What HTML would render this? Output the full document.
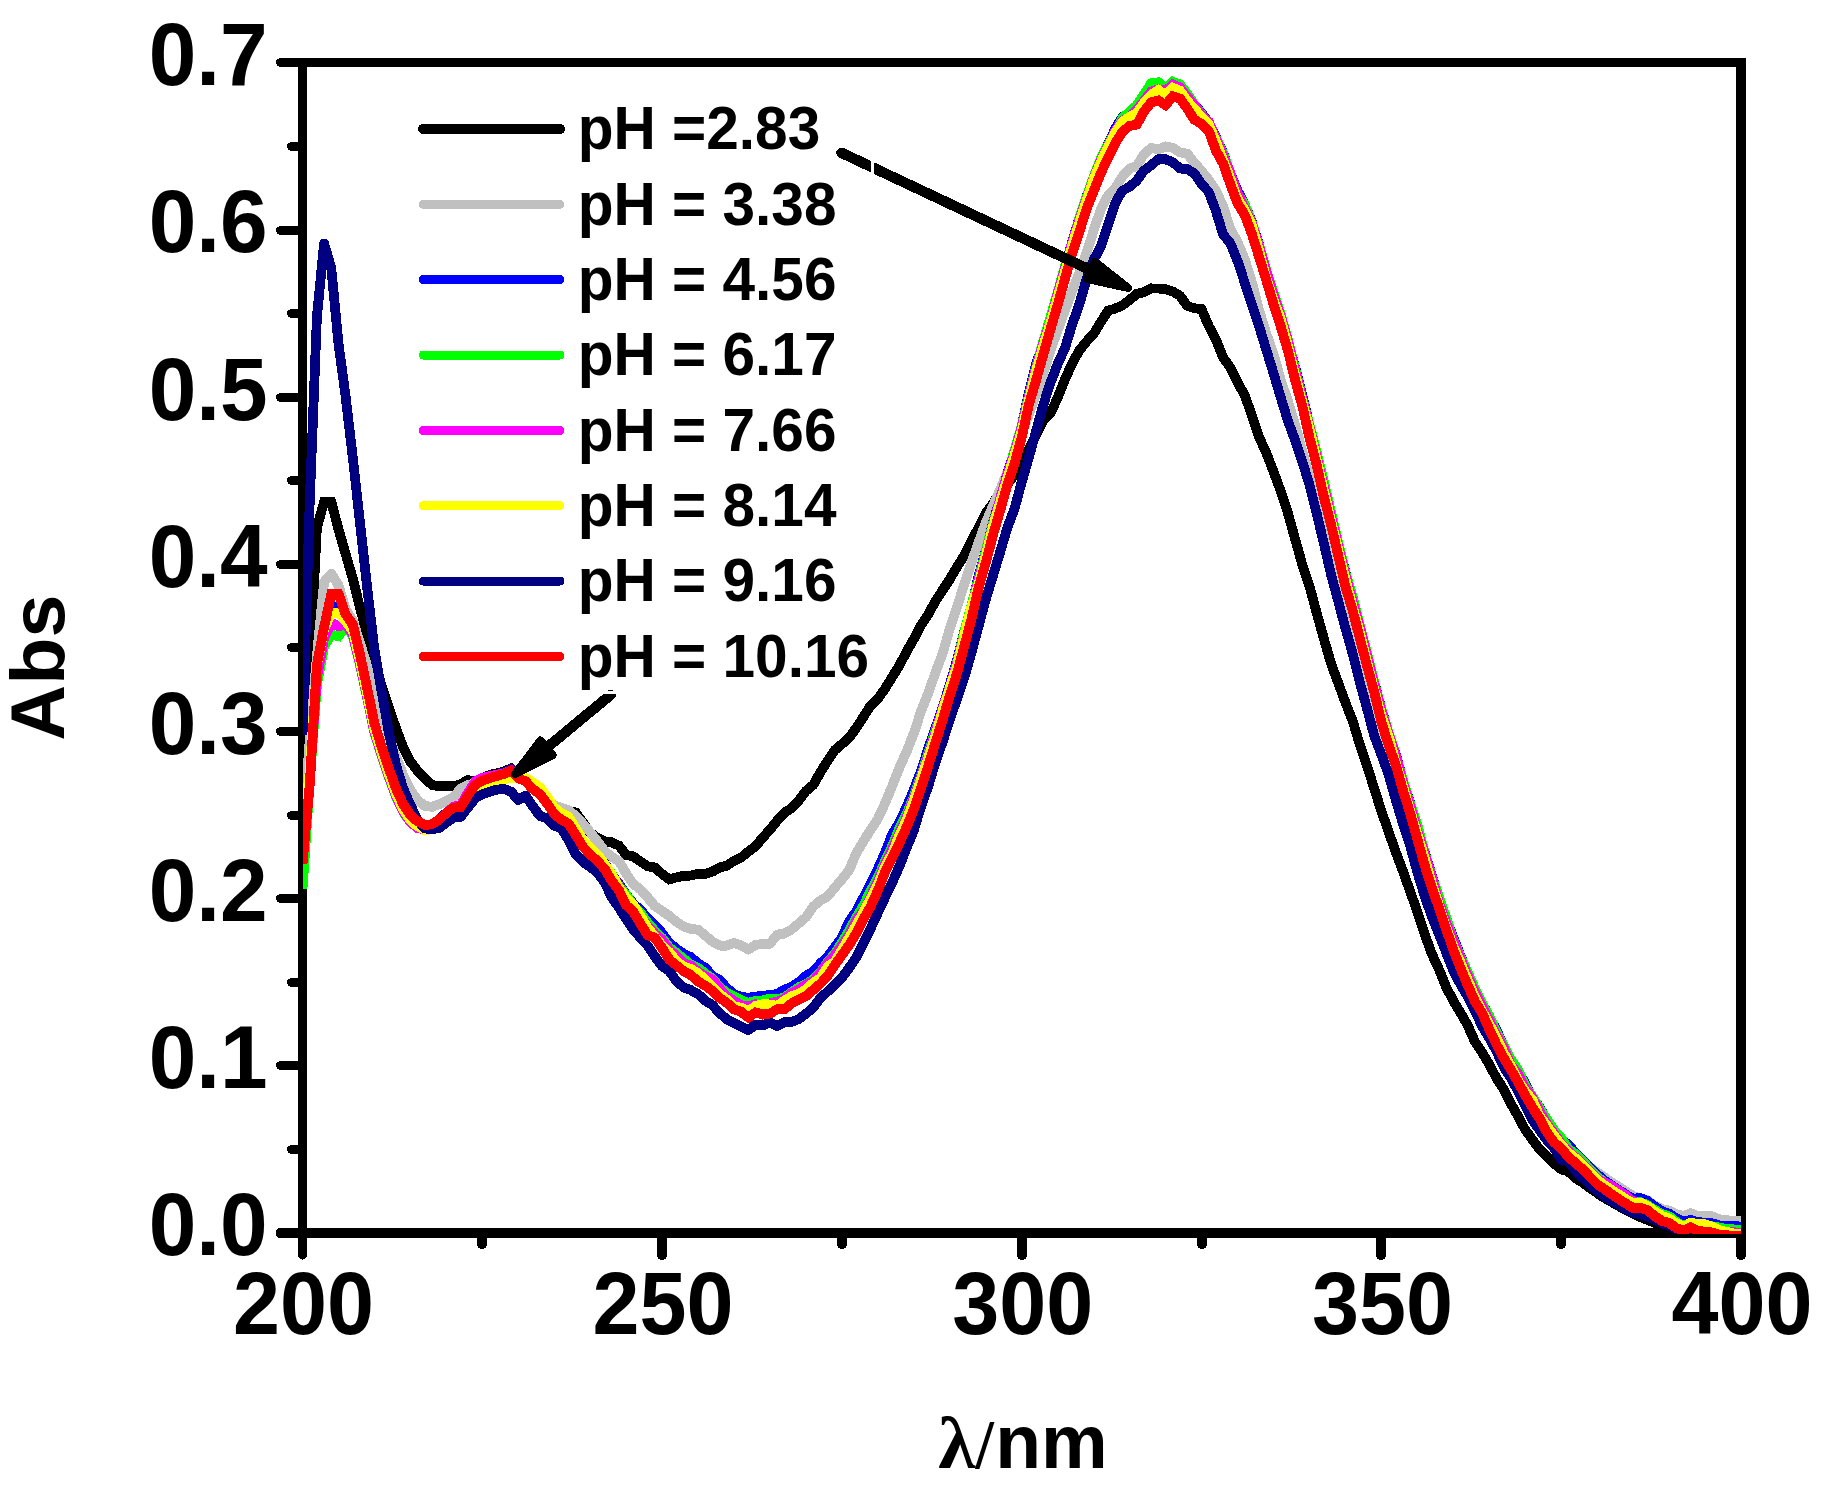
<!DOCTYPE html>
<html lang="en"><head><meta charset="utf-8"><title>UV-Vis absorbance vs pH</title>
<style>html,body{margin:0;padding:0;background:#fff}svg{display:block}text{font-family:"Liberation Sans",sans-serif;font-weight:bold;fill:#000}.sym{font-family:"Liberation Serif","DejaVu Serif",serif;font-weight:bold}</style></head><body>
<svg width="1823" height="1492" viewBox="0 0 1823 1492">
<rect width="1823" height="1492" fill="#fff"/>
<g stroke="#000" stroke-linecap="round" fill="none" shape-rendering="crispEdges">
<path d="M298 62.5H1746" stroke-width="9" stroke-linecap="butt"/>
<path d="M302.5 58V1238" stroke-width="9" stroke-linecap="butt"/>
<path d="M298 1233H1746" stroke-width="10" stroke-linecap="butt"/>
<path d="M1741 58V1238" stroke-width="10" stroke-linecap="butt"/>
<path d="M302.5 1233h-22.0" stroke-width="10"/>
<path d="M302.5 1065.5h-22.0" stroke-width="9"/>
<path d="M302.5 898.5h-22.0" stroke-width="9"/>
<path d="M302.5 731.5h-22.0" stroke-width="9"/>
<path d="M302.5 564.5h-22.0" stroke-width="9"/>
<path d="M302.5 397.5h-22.0" stroke-width="9"/>
<path d="M302.5 230.5h-22.0" stroke-width="9"/>
<path d="M302.5 62.5h-22.0" stroke-width="9"/>
<path d="M302.5 1149.5h-11.0" stroke-width="9"/>
<path d="M302.5 982.5h-11.0" stroke-width="9"/>
<path d="M302.5 815.5h-11.0" stroke-width="9"/>
<path d="M302.5 647.5h-11.0" stroke-width="9"/>
<path d="M302.5 480.5h-11.0" stroke-width="9"/>
<path d="M302.5 313.5h-11.0" stroke-width="9"/>
<path d="M302.5 146.5h-11.0" stroke-width="9"/>
<path d="M302.5 1233.0v22.0" stroke-width="9"/>
<path d="M662 1233.0v22.0" stroke-width="10"/>
<path d="M1022 1233.0v22.0" stroke-width="10"/>
<path d="M1381 1233.0v22.0" stroke-width="10"/>
<path d="M1741 1233.0v22.0" stroke-width="10"/>
<path d="M482 1233.0v11.0" stroke-width="10"/>
<path d="M842 1233.0v11.0" stroke-width="10"/>
<path d="M1202 1233.0v11.0" stroke-width="10"/>
<path d="M1561 1233.0v11.0" stroke-width="10"/>
</g>
<text font-size="88.5" text-anchor="end" transform="translate(267.6 1255.3) scale(0.967 1)" xml:space="preserve">0.0</text>
<text font-size="88.5" text-anchor="end" transform="translate(267.6 1088.1) scale(0.967 1)" xml:space="preserve">0.1</text>
<text font-size="88.5" text-anchor="end" transform="translate(267.6 921.0) scale(0.967 1)" xml:space="preserve">0.2</text>
<text font-size="88.5" text-anchor="end" transform="translate(267.6 753.8) scale(0.967 1)" xml:space="preserve">0.3</text>
<text font-size="88.5" text-anchor="end" transform="translate(267.6 586.7) scale(0.967 1)" xml:space="preserve">0.4</text>
<text font-size="88.5" text-anchor="end" transform="translate(267.6 419.5) scale(0.967 1)" xml:space="preserve">0.5</text>
<text font-size="88.5" text-anchor="end" transform="translate(267.6 252.4) scale(0.967 1)" xml:space="preserve">0.6</text>
<text font-size="88.5" text-anchor="end" transform="translate(267.6 85.2) scale(0.967 1)" xml:space="preserve">0.7</text>
<text font-size="88.5" text-anchor="middle" transform="translate(303.5 1334.4) scale(0.955 1)" xml:space="preserve">200</text>
<text font-size="88.5" text-anchor="middle" transform="translate(663.1 1334.4) scale(0.955 1)" xml:space="preserve">250</text>
<text font-size="88.5" text-anchor="middle" transform="translate(1022.8 1334.4) scale(0.955 1)" xml:space="preserve">300</text>
<text font-size="88.5" text-anchor="middle" transform="translate(1382.4 1334.4) scale(0.955 1)" xml:space="preserve">350</text>
<text font-size="88.5" text-anchor="middle" transform="translate(1742.0 1334.4) scale(0.955 1)" xml:space="preserve">400</text>
<text font-size="77.4" text-anchor="middle" transform="translate(64.1 667.6) scale(0.99 1) rotate(-90)">Abs</text>
<text class="sym" font-size="73.5" text-anchor="start" transform="translate(938.2 1468) scale(1.03 1)" xml:space="preserve">λ</text>
<text class="sym" font-size="69" text-anchor="start" transform="translate(975.4 1468) scale(0.955 1)" xml:space="preserve">/</text>
<text font-size="76.5" text-anchor="start" transform="translate(995.2 1468) scale(0.98 1)" xml:space="preserve">nm</text>
<defs><clipPath id="plotclip"><rect x="303" y="63" width="1439" height="1171"/></clipPath></defs>
<g clip-path="url(#plotclip)" fill="none" stroke-width="9.8" stroke-linejoin="miter" stroke-miterlimit="4" stroke-linecap="butt" shape-rendering="crispEdges">
<polyline stroke="#000000" points="302.5,798.4 309.7,671.4 316.9,527.6 324.1,501.9 331.3,501.9 338.5,529.3 345.7,554.3 352.8,578.6 360.0,607.8 367.2,634.6 374.4,661.3 381.6,685.6 388.8,707.5 396.0,728.2 403.2,747.4 410.4,761.6 417.6,770.8 424.8,778.3 432.0,784.9 439.2,786.2 446.4,786.2 453.5,786.2 460.7,784.2 467.9,780.0 475.1,781.7 482.3,778.3 489.5,775.0 496.7,773.3 503.9,771.6 511.1,768.3 518.3,775.0 525.5,778.3 532.7,783.3 539.9,788.4 547.0,800.9 554.2,806.7 561.4,809.3 568.6,810.9 575.8,812.6 583.0,822.6 590.2,832.7 597.4,837.7 604.6,841.5 611.8,842.3 619.0,845.7 626.2,854.9 633.4,856.5 640.5,861.5 647.7,866.3 654.9,867.4 662.1,874.0 669.3,879.3 676.5,877.4 683.7,875.8 690.9,875.6 698.1,873.8 705.3,873.9 712.5,871.6 719.7,867.4 726.9,865.7 734.0,860.8 741.2,857.5 748.4,851.6 755.6,846.1 762.8,837.6 770.0,829.6 777.2,820.6 784.4,812.7 791.6,808.2 798.8,800.3 806.0,790.9 813.2,785.0 820.4,772.3 827.6,760.7 834.7,750.2 841.9,744.1 849.1,737.9 856.3,727.8 863.5,716.8 870.7,705.4 877.9,698.7 885.1,688.5 892.3,676.9 899.5,665.3 906.7,651.4 913.9,638.8 921.1,625.3 928.2,614.3 935.4,601.2 942.6,590.2 949.8,579.3 957.0,566.8 964.2,555.7 971.4,540.8 978.6,527.6 985.8,513.0 993.0,503.5 1000.2,491.4 1007.4,484.2 1014.6,474.6 1021.8,461.4 1028.9,449.3 1036.1,435.0 1043.3,420.6 1050.5,413.4 1057.7,397.5 1064.9,379.5 1072.1,363.6 1079.3,350.5 1086.5,341.6 1093.7,333.7 1100.9,321.9 1108.1,310.7 1115.3,308.5 1122.4,305.4 1129.6,299.9 1136.8,293.9 1144.0,292.2 1151.2,288.4 1158.4,288.5 1165.6,289.2 1172.8,291.5 1180.0,295.8 1187.2,305.9 1194.4,308.3 1201.6,309.2 1208.8,326.1 1215.9,339.6 1223.1,357.4 1230.3,367.5 1237.5,382.2 1244.7,395.4 1251.9,415.2 1259.1,437.1 1266.3,453.0 1273.5,471.4 1280.7,491.1 1287.9,513.0 1295.1,539.0 1302.3,564.7 1309.5,586.1 1316.6,612.7 1323.8,638.4 1331.0,663.4 1338.2,682.9 1345.4,702.4 1352.6,720.7 1359.8,744.5 1367.0,765.5 1374.2,788.6 1381.4,811.1 1388.6,831.7 1395.8,852.2 1403.0,871.3 1410.1,891.4 1417.3,911.4 1424.5,933.7 1431.7,953.6 1438.9,969.2 1446.1,987.0 1453.3,1000.7 1460.5,1012.8 1467.7,1025.3 1474.9,1041.7 1482.1,1052.3 1489.3,1064.5 1496.5,1078.3 1503.6,1089.0 1510.8,1103.5 1518.0,1116.2 1525.2,1129.7 1532.4,1139.6 1539.6,1149.4 1546.8,1156.1 1554.0,1163.4 1561.2,1169.3 1568.4,1171.6 1575.6,1178.1 1582.8,1182.8 1590.0,1188.0 1597.2,1193.1 1604.3,1197.8 1611.5,1201.8 1618.7,1206.1 1625.9,1210.0 1633.1,1213.8 1640.3,1217.0 1647.5,1219.9 1654.7,1222.9 1661.9,1226.5 1669.1,1230.0 1676.3,1232.9 1683.5,1236.1 1690.7,1238.0 1697.8,1238.3 1705.0,1238.7 1712.2,1239.0 1719.4,1239.2 1726.6,1239.7 1733.8,1239.3 1741.0,1240.0"/>
<polyline stroke="#c0c0c0" stroke-linejoin="round" points="302.5,845.2 309.7,739.9 316.9,656.3 324.1,581.9 331.3,573.7 338.5,585.3 345.7,609.5 352.8,620.4 360.0,642.9 367.2,666.3 374.4,689.7 381.6,713.1 388.8,734.9 396.0,756.6 403.2,775.0 410.4,790.0 417.6,800.1 424.8,805.9 432.0,806.9 439.2,804.2 446.4,800.9 453.5,796.9 460.7,788.9 467.9,785.0 475.1,783.3 482.3,780.0 489.5,776.7 496.7,775.0 503.9,773.3 511.1,770.0 518.3,776.7 525.5,780.0 532.7,785.0 539.9,790.0 547.0,799.2 554.2,805.4 561.4,807.6 568.6,810.4 575.8,815.9 583.0,824.0 590.2,832.2 597.4,841.4 604.6,851.0 611.8,856.9 619.0,861.4 626.2,873.5 633.4,884.3 640.5,889.4 647.7,897.5 654.9,906.2 662.1,911.0 669.3,915.9 676.5,921.9 683.7,926.5 690.9,928.9 698.1,929.6 705.3,935.6 712.5,941.5 719.7,945.6 726.9,945.6 734.0,942.8 741.2,945.6 748.4,949.6 755.6,944.9 762.8,944.0 770.0,943.7 777.2,934.6 784.4,933.6 791.6,929.4 798.8,923.3 806.0,917.2 813.2,906.5 820.4,900.5 827.6,896.4 834.7,887.7 841.9,879.2 849.1,870.2 856.3,853.1 863.5,841.1 870.7,829.6 877.9,818.8 885.1,803.1 892.3,785.8 899.5,767.5 906.7,751.4 913.9,733.1 921.1,711.1 928.2,693.3 935.4,672.7 942.6,653.7 949.8,628.6 957.0,607.2 964.2,584.3 971.4,562.6 978.6,542.5 985.8,522.8 993.0,506.0 1000.2,489.4 1007.4,472.4 1014.6,451.9 1021.8,433.3 1028.9,414.2 1036.1,394.5 1043.3,373.8 1050.5,350.2 1057.7,330.4 1064.9,310.2 1072.1,291.2 1079.3,273.1 1086.5,253.1 1093.7,230.2 1100.9,209.1 1108.1,195.4 1115.3,188.4 1122.4,176.5 1129.6,168.6 1136.8,165.8 1144.0,154.2 1151.2,148.0 1158.4,149.3 1165.6,146.4 1172.8,147.8 1180.0,152.4 1187.2,153.6 1194.4,162.8 1201.6,171.0 1208.8,179.9 1215.9,190.5 1223.1,206.4 1230.3,228.8 1237.5,242.0 1244.7,259.2 1251.9,282.2 1259.1,310.1 1266.3,333.5 1273.5,353.9 1280.7,379.7 1287.9,401.0 1295.1,424.9 1302.3,451.4 1309.5,476.8 1316.6,502.0 1323.8,532.0 1331.0,560.1 1338.2,588.2 1345.4,613.9 1352.6,639.5 1359.8,668.1 1367.0,698.2 1374.2,724.2 1381.4,746.9 1388.6,767.7 1395.8,790.3 1403.0,813.3 1410.1,837.0 1417.3,860.6 1424.5,881.9 1431.7,902.3 1438.9,922.2 1446.1,939.7 1453.3,955.2 1460.5,973.2 1467.7,989.7 1474.9,1007.0 1482.1,1019.4 1489.3,1036.9 1496.5,1050.7 1503.6,1061.5 1510.8,1073.7 1518.0,1086.0 1525.2,1098.8 1532.4,1108.3 1539.6,1119.5 1546.8,1127.8 1554.0,1135.0 1561.2,1145.7 1568.4,1153.7 1575.6,1157.9 1582.8,1162.0 1590.0,1167.0 1597.2,1172.4 1604.3,1177.1 1611.5,1182.4 1618.7,1186.7 1625.9,1191.5 1633.1,1196.0 1640.3,1198.8 1647.5,1200.2 1654.7,1205.5 1661.9,1209.0 1669.1,1210.6 1676.3,1214.1 1683.5,1216.1 1690.7,1213.1 1697.8,1216.1 1705.0,1215.7 1712.2,1216.3 1719.4,1219.3 1726.6,1220.3 1733.8,1220.7 1741.0,1220.9"/>
<polyline stroke="#0000ff" points="302.5,840.2 309.7,785.0 316.9,671.4 324.1,631.2 331.3,606.2 338.5,607.8 345.7,622.9 352.8,632.7 360.0,662.7 367.2,695.9 374.4,730.9 381.6,754.1 388.8,775.7 396.0,795.5 403.2,811.3 410.4,822.0 417.6,828.1 424.8,828.5 432.0,824.3 439.2,819.5 446.4,812.6 453.5,807.1 460.7,806.3 467.9,794.8 475.1,783.9 482.3,779.6 489.5,776.9 496.7,774.6 503.9,772.5 511.1,769.0 518.3,775.4 525.5,777.4 532.7,784.0 539.9,789.2 547.0,798.4 554.2,809.1 561.4,814.8 568.6,818.6 575.8,830.2 583.0,841.9 590.2,849.4 597.4,856.1 604.6,863.0 611.8,874.9 619.0,883.7 626.2,894.4 633.4,903.6 640.5,910.0 647.7,918.4 654.9,924.9 662.1,933.2 669.3,942.9 676.5,948.8 683.7,953.9 690.9,957.1 698.1,963.5 705.3,967.7 712.5,976.1 719.7,980.1 726.9,988.1 734.0,994.1 741.2,996.9 748.4,997.7 755.6,996.7 762.8,995.7 770.0,995.0 777.2,994.1 784.4,989.6 791.6,986.9 798.8,982.1 806.0,975.8 813.2,971.6 820.4,963.4 827.6,956.8 834.7,947.4 841.9,937.5 849.1,921.4 856.3,911.3 863.5,897.5 870.7,884.1 877.9,868.9 885.1,852.7 892.3,834.1 899.5,822.1 906.7,806.8 913.9,789.5 921.1,770.9 928.2,748.5 935.4,728.2 942.6,707.3 949.8,684.7 957.0,660.0 964.2,631.2 971.4,607.7 978.6,575.7 985.8,550.8 993.0,522.2 1000.2,499.0 1007.4,473.3 1014.6,451.2 1021.8,425.3 1028.9,392.5 1036.1,364.2 1043.3,342.7 1050.5,318.9 1057.7,294.2 1064.9,267.0 1072.1,242.0 1079.3,218.2 1086.5,196.6 1093.7,178.2 1100.9,159.2 1108.1,144.2 1115.3,128.7 1122.4,116.9 1129.6,113.9 1136.8,111.1 1144.0,101.2 1151.2,91.9 1158.4,89.7 1165.6,92.3 1172.8,85.1 1180.0,86.0 1187.2,96.8 1194.4,105.0 1201.6,112.7 1208.8,122.8 1215.9,137.1 1223.1,152.7 1230.3,173.0 1237.5,190.6 1244.7,204.2 1251.9,222.0 1259.1,244.8 1266.3,271.3 1273.5,292.4 1280.7,314.1 1287.9,341.0 1295.1,366.9 1302.3,395.5 1309.5,424.8 1316.6,454.2 1323.8,483.6 1331.0,514.5 1338.2,543.4 1345.4,571.9 1352.6,598.0 1359.8,626.3 1367.0,652.7 1374.2,681.6 1381.4,708.8 1388.6,732.5 1395.8,754.0 1403.0,780.6 1410.1,802.5 1417.3,827.0 1424.5,851.5 1431.7,874.9 1438.9,898.1 1446.1,918.6 1453.3,937.3 1460.5,955.8 1467.7,972.9 1474.9,990.7 1482.1,1003.0 1489.3,1016.2 1496.5,1030.3 1503.6,1045.1 1510.8,1060.5 1518.0,1070.2 1525.2,1083.5 1532.4,1098.2 1539.6,1106.7 1546.8,1120.8 1554.0,1131.5 1561.2,1139.5 1568.4,1144.7 1575.6,1153.1 1582.8,1159.9 1590.0,1167.2 1597.2,1174.4 1604.3,1180.3 1611.5,1185.1 1618.7,1189.9 1625.9,1194.5 1633.1,1198.7 1640.3,1198.0 1647.5,1200.9 1654.7,1206.5 1661.9,1211.3 1669.1,1213.6 1676.3,1218.4 1683.5,1221.5 1690.7,1219.8 1697.8,1222.1 1705.0,1222.6 1712.2,1223.3 1719.4,1225.3 1726.6,1226.4 1733.8,1226.2 1741.0,1226.5"/>
<polyline stroke="#00ff00" points="302.5,889.2 309.7,781.7 316.9,684.7 324.1,646.3 331.3,634.6 338.5,636.2 345.7,626.2 352.8,635.7 360.0,665.3 367.2,698.3 374.4,732.9 381.6,755.8 388.8,777.0 396.0,796.6 403.2,811.9 410.4,822.3 417.6,828.1 424.8,829.3 432.0,826.0 439.2,821.1 446.4,814.3 453.5,808.8 460.7,808.0 467.9,796.5 475.1,785.6 482.3,781.3 489.5,778.6 496.7,776.3 503.9,774.1 511.1,770.6 518.3,776.5 525.5,778.0 532.7,784.0 539.9,789.2 547.0,798.4 554.2,809.1 561.4,814.8 568.6,818.6 575.8,830.2 583.0,841.9 590.2,849.4 597.4,856.1 604.6,864.2 611.8,874.1 619.0,886.0 626.2,894.8 633.4,905.5 640.5,912.5 647.7,923.0 654.9,931.0 662.1,938.0 669.3,947.6 676.5,953.1 683.7,958.9 690.9,964.7 698.1,967.8 705.3,973.6 712.5,978.6 719.7,987.3 726.9,993.1 734.0,996.5 741.2,1000.2 748.4,1002.7 755.6,1000.9 762.8,1000.4 770.0,998.6 777.2,999.3 784.4,997.6 791.6,992.3 798.8,987.3 806.0,984.1 813.2,979.4 820.4,972.4 827.6,961.9 834.7,953.9 841.9,942.6 849.1,930.5 856.3,917.4 863.5,905.6 870.7,890.9 877.9,877.6 885.1,861.1 892.3,845.7 899.5,828.0 906.7,813.7 913.9,796.4 921.1,775.4 928.2,753.7 935.4,730.8 942.6,710.5 949.8,686.7 957.0,662.4 964.2,632.2 971.4,605.6 978.6,578.7 985.8,551.0 993.0,523.2 1000.2,500.1 1007.4,475.5 1014.6,450.0 1021.8,425.6 1028.9,395.1 1036.1,367.4 1043.3,341.4 1050.5,317.1 1057.7,292.4 1064.9,266.6 1072.1,245.1 1079.3,217.9 1086.5,197.1 1093.7,176.6 1100.9,158.3 1108.1,144.3 1115.3,131.7 1122.4,118.1 1129.6,111.7 1136.8,105.4 1144.0,94.4 1151.2,83.3 1158.4,82.3 1165.6,88.2 1172.8,81.8 1180.0,84.5 1187.2,93.6 1194.4,104.7 1201.6,114.3 1208.8,122.9 1215.9,137.5 1223.1,153.3 1230.3,172.7 1237.5,193.9 1244.7,204.4 1251.9,222.8 1259.1,245.1 1266.3,270.4 1273.5,292.6 1280.7,314.4 1287.9,339.8 1295.1,368.3 1302.3,398.2 1309.5,425.1 1316.6,452.0 1323.8,481.3 1331.0,512.2 1338.2,542.7 1345.4,572.5 1352.6,596.8 1359.8,625.3 1367.0,653.4 1374.2,682.4 1381.4,708.9 1388.6,732.8 1395.8,755.0 1403.0,780.2 1410.1,803.8 1417.3,824.9 1424.5,852.1 1431.7,875.9 1438.9,896.9 1446.1,917.6 1453.3,939.5 1460.5,956.7 1467.7,972.2 1474.9,988.7 1482.1,1003.6 1489.3,1015.8 1496.5,1032.3 1503.6,1045.3 1510.8,1059.3 1518.0,1069.6 1525.2,1085.6 1532.4,1096.2 1539.6,1108.1 1546.8,1118.8 1554.0,1129.9 1561.2,1138.0 1568.4,1149.0 1575.6,1154.0 1582.8,1161.4 1590.0,1169.3 1597.2,1176.4 1604.3,1182.6 1611.5,1188.0 1618.7,1192.5 1625.9,1197.9 1633.1,1202.5 1640.3,1202.0 1647.5,1205.2 1654.7,1210.0 1661.9,1214.0 1669.1,1216.2 1676.3,1221.9 1683.5,1225.9 1690.7,1222.7 1697.8,1224.3 1705.0,1225.0 1712.2,1226.3 1719.4,1227.6 1726.6,1229.0 1733.8,1229.4 1741.0,1229.8"/>
<polyline stroke="#ff00ff" points="302.5,831.8 309.7,778.3 316.9,678.0 324.1,637.9 331.3,622.9 338.5,626.2 345.7,624.5 352.8,634.2 360.0,664.0 367.2,697.1 374.4,731.9 381.6,754.9 388.8,776.3 396.0,796.1 403.2,811.6 410.4,822.1 417.6,828.1 424.8,829.3 432.0,826.0 439.2,820.5 446.4,812.9 453.5,806.7 460.7,805.2 467.9,793.0 475.1,781.5 482.3,778.0 489.5,776.2 496.7,774.7 503.9,773.3 511.1,770.6 518.3,776.5 525.5,778.0 532.7,784.0 539.9,789.2 547.0,798.4 554.2,809.1 561.4,814.8 568.6,818.6 575.8,830.2 583.0,841.9 590.2,849.4 597.4,856.1 604.6,863.9 611.8,874.4 619.0,886.4 626.2,898.3 633.4,906.1 640.5,916.6 647.7,925.9 654.9,933.9 662.1,939.8 669.3,949.8 676.5,955.8 683.7,963.0 690.9,965.6 698.1,971.7 705.3,976.4 712.5,979.8 719.7,988.6 726.9,996.0 734.0,1000.8 741.2,1005.2 748.4,1006.3 755.6,1004.2 762.8,1005.2 770.0,1003.2 777.2,1001.6 784.4,998.7 791.6,993.3 798.8,989.7 806.0,984.5 813.2,981.2 820.4,972.5 827.6,963.3 834.7,955.4 841.9,945.7 849.1,934.5 856.3,920.2 863.5,910.7 870.7,896.3 877.9,881.1 885.1,864.2 892.3,848.9 899.5,832.4 906.7,816.9 913.9,797.7 921.1,776.9 928.2,756.0 935.4,732.4 942.6,708.4 949.8,687.4 957.0,663.1 964.2,635.3 971.4,608.9 978.6,579.4 985.8,554.1 993.0,525.4 1000.2,498.3 1007.4,473.9 1014.6,453.0 1021.8,426.6 1028.9,397.1 1036.1,368.0 1043.3,343.3 1050.5,322.1 1057.7,293.3 1064.9,268.9 1072.1,242.6 1079.3,220.0 1086.5,199.2 1093.7,178.3 1100.9,159.9 1108.1,145.5 1115.3,130.8 1122.4,120.8 1129.6,117.1 1136.8,109.9 1144.0,100.9 1151.2,91.5 1158.4,89.1 1165.6,91.1 1172.8,84.4 1180.0,87.5 1187.2,97.1 1194.4,104.4 1201.6,115.0 1208.8,121.7 1215.9,138.2 1223.1,155.4 1230.3,172.9 1237.5,193.3 1244.7,208.0 1251.9,223.2 1259.1,246.2 1266.3,270.7 1273.5,294.6 1280.7,315.7 1287.9,340.3 1295.1,370.3 1302.3,397.8 1309.5,427.2 1316.6,456.9 1323.8,486.4 1331.0,515.9 1338.2,545.7 1345.4,574.6 1352.6,601.3 1359.8,626.3 1367.0,655.5 1374.2,683.5 1381.4,710.1 1388.6,734.2 1395.8,754.9 1403.0,782.5 1410.1,805.1 1417.3,830.7 1424.5,852.6 1431.7,876.4 1438.9,902.6 1446.1,922.4 1453.3,940.3 1460.5,958.5 1467.7,975.5 1474.9,992.2 1482.1,1006.3 1489.3,1020.0 1496.5,1034.8 1503.6,1047.4 1510.8,1064.6 1518.0,1073.9 1525.2,1087.9 1532.4,1097.5 1539.6,1111.0 1546.8,1123.8 1554.0,1133.2 1561.2,1143.7 1568.4,1151.2 1575.6,1157.4 1582.8,1164.2 1590.0,1171.7 1597.2,1178.9 1604.3,1182.4 1611.5,1185.8 1618.7,1190.6 1625.9,1195.4 1633.1,1201.7 1640.3,1203.0 1647.5,1206.3 1654.7,1212.2 1661.9,1216.5 1669.1,1219.1 1676.3,1224.4 1683.5,1227.1 1690.7,1223.2 1697.8,1227.0 1705.0,1228.4 1712.2,1229.1 1719.4,1231.0 1726.6,1232.3 1733.8,1232.2 1741.0,1232.9"/>
<polyline stroke="#ffff00" points="302.5,838.5 309.7,771.6 316.9,664.7 324.1,629.6 331.3,612.8 338.5,612.8 345.7,621.2 352.8,631.1 360.0,661.0 367.2,694.3 374.4,729.2 381.6,752.4 388.8,774.0 396.0,793.9 403.2,809.6 410.4,820.3 417.6,826.5 424.8,830.2 432.0,829.3 439.2,824.6 446.4,817.9 453.5,812.6 460.7,811.9 467.9,800.6 475.1,789.9 482.3,785.7 489.5,783.2 496.7,781.0 503.9,779.0 511.1,778.2 518.3,777.3 525.5,777.6 532.7,782.3 539.9,787.5 547.0,796.7 554.2,807.4 561.4,813.1 568.6,816.9 575.8,828.5 583.0,840.2 590.2,847.7 597.4,854.4 604.6,864.1 611.8,874.3 619.0,887.5 626.2,897.3 633.4,904.8 640.5,916.0 647.7,927.9 654.9,936.7 662.1,945.4 669.3,952.2 676.5,961.4 683.7,966.5 690.9,968.9 698.1,973.2 705.3,979.8 712.5,987.1 719.7,994.4 726.9,999.4 734.0,1006.3 741.2,1007.7 748.4,1011.4 755.6,1006.0 762.8,1004.0 770.0,1004.5 777.2,1005.8 784.4,1000.7 791.6,996.3 798.8,993.8 806.0,989.3 813.2,982.8 820.4,978.2 827.6,966.7 834.7,961.8 841.9,950.0 849.1,937.6 856.3,925.2 863.5,912.0 870.7,898.4 877.9,884.3 885.1,866.3 892.3,853.3 899.5,835.2 906.7,819.8 913.9,800.1 921.1,778.9 928.2,758.0 935.4,735.4 942.6,710.8 949.8,688.2 957.0,665.8 964.2,635.9 971.4,607.1 978.6,583.4 985.8,554.7 993.0,525.9 1000.2,502.2 1007.4,478.1 1014.6,455.0 1021.8,430.1 1028.9,399.4 1036.1,370.7 1043.3,346.0 1050.5,322.7 1057.7,296.7 1064.9,271.9 1072.1,245.8 1079.3,222.7 1086.5,200.0 1093.7,178.7 1100.9,161.7 1108.1,146.4 1115.3,132.6 1122.4,121.8 1129.6,116.6 1136.8,113.2 1144.0,102.9 1151.2,95.0 1158.4,90.0 1165.6,95.0 1172.8,87.8 1180.0,90.6 1187.2,100.9 1194.4,108.8 1201.6,117.2 1208.8,124.7 1215.9,141.3 1223.1,159.8 1230.3,178.3 1237.5,198.7 1244.7,210.0 1251.9,225.3 1259.1,250.6 1266.3,278.1 1273.5,299.8 1280.7,318.9 1287.9,345.5 1295.1,374.2 1302.3,401.7 1309.5,428.9 1316.6,459.4 1323.8,490.1 1331.0,520.0 1338.2,549.5 1345.4,579.1 1352.6,606.4 1359.8,631.9 1367.0,661.2 1374.2,688.9 1381.4,715.5 1388.6,736.3 1395.8,762.6 1403.0,785.8 1410.1,810.2 1417.3,833.7 1424.5,857.5 1431.7,882.9 1438.9,905.2 1446.1,927.0 1453.3,945.9 1460.5,962.5 1467.7,980.0 1474.9,996.9 1482.1,1010.8 1489.3,1024.3 1496.5,1037.6 1503.6,1052.8 1510.8,1065.7 1518.0,1080.1 1525.2,1091.3 1532.4,1099.8 1539.6,1116.0 1546.8,1125.6 1554.0,1135.6 1561.2,1144.9 1568.4,1152.6 1575.6,1158.3 1582.8,1165.1 1590.0,1172.5 1597.2,1179.9 1604.3,1185.0 1611.5,1190.0 1618.7,1194.5 1625.9,1199.1 1633.1,1203.5 1640.3,1202.8 1647.5,1206.0 1654.7,1211.5 1661.9,1215.8 1669.1,1218.4 1676.3,1223.4 1683.5,1226.8 1690.7,1222.6 1697.8,1224.3 1705.0,1224.4 1712.2,1226.6 1719.4,1230.3 1726.6,1231.9 1733.8,1233.4 1741.0,1234.0"/>
<polyline stroke="#000080" stroke-linejoin="round" points="302.5,734.9 309.7,502.5 316.9,317.0 324.1,243.4 331.3,268.5 338.5,343.7 345.7,397.2 352.8,457.4 360.0,522.6 367.2,587.8 374.4,649.6 381.6,691.4 388.8,732.4 396.0,765.0 403.2,788.4 410.4,805.1 417.6,820.1 424.8,828.5 432.0,829.3 439.2,828.0 446.4,822.6 453.5,817.6 460.7,816.8 467.9,807.6 475.1,798.4 482.3,794.2 489.5,791.7 496.7,789.7 503.9,788.9 511.1,791.7 518.3,800.1 525.5,795.5 532.7,806.2 539.9,815.9 547.0,818.5 554.2,825.6 561.4,828.1 568.6,840.2 575.8,854.4 583.0,861.9 590.2,866.9 597.4,872.8 604.6,882.3 611.8,897.4 619.0,907.7 626.2,919.1 633.4,929.8 640.5,937.8 647.7,945.7 654.9,956.5 662.1,966.3 669.3,971.1 676.5,981.2 683.7,987.5 690.9,990.1 698.1,994.2 705.3,1000.7 712.5,1005.2 719.7,1013.2 726.9,1019.3 734.0,1022.8 741.2,1026.6 748.4,1030.1 755.6,1024.5 762.8,1025.4 770.0,1022.4 777.2,1026.0 784.4,1022.1 791.6,1021.9 798.8,1019.1 806.0,1013.8 813.2,1007.4 820.4,998.2 827.6,991.5 834.7,985.2 841.9,977.6 849.1,967.9 856.3,957.5 863.5,942.7 870.7,928.3 877.9,912.7 885.1,897.3 892.3,882.4 899.5,866.0 906.7,847.7 913.9,830.2 921.1,806.2 928.2,786.4 935.4,762.3 942.6,742.0 949.8,719.6 957.0,698.9 964.2,677.8 971.4,652.9 978.6,625.9 985.8,599.3 993.0,575.5 1000.2,551.9 1007.4,527.6 1014.6,508.5 1021.8,481.6 1028.9,457.4 1036.1,431.0 1043.3,404.8 1050.5,382.7 1057.7,364.0 1064.9,348.3 1072.1,324.7 1079.3,304.6 1086.5,279.3 1093.7,259.7 1100.9,246.8 1108.1,225.2 1115.3,202.9 1122.4,190.6 1129.6,186.9 1136.8,180.5 1144.0,170.5 1151.2,165.2 1158.4,159.1 1165.6,159.3 1172.8,162.2 1180.0,168.5 1187.2,169.0 1194.4,173.5 1201.6,184.1 1208.8,192.0 1215.9,210.9 1223.1,234.6 1230.3,243.1 1237.5,260.9 1244.7,282.6 1251.9,304.3 1259.1,326.2 1266.3,349.9 1273.5,373.1 1280.7,397.4 1287.9,420.7 1295.1,440.4 1302.3,461.6 1309.5,485.0 1316.6,513.0 1323.8,543.3 1331.0,574.5 1338.2,601.1 1345.4,628.1 1352.6,653.5 1359.8,682.4 1367.0,708.3 1374.2,735.7 1381.4,754.8 1388.6,774.6 1395.8,799.7 1403.0,824.0 1410.1,845.6 1417.3,871.9 1424.5,895.4 1431.7,916.3 1438.9,934.0 1446.1,952.3 1453.3,970.5 1460.5,984.5 1467.7,996.5 1474.9,1010.6 1482.1,1026.1 1489.3,1038.2 1496.5,1051.2 1503.6,1066.7 1510.8,1078.1 1518.0,1090.9 1525.2,1105.5 1532.4,1120.0 1539.6,1130.2 1546.8,1140.0 1554.0,1148.0 1561.2,1159.9 1568.4,1161.2 1575.6,1171.3 1582.8,1177.9 1590.0,1184.6 1597.2,1190.8 1604.3,1196.2 1611.5,1200.9 1618.7,1204.7 1625.9,1209.1 1633.1,1213.0 1640.3,1214.1 1647.5,1216.5 1654.7,1219.7 1661.9,1223.3 1669.1,1225.5 1676.3,1229.0 1683.5,1234.3 1690.7,1237.2 1697.8,1237.7 1705.0,1237.7 1712.2,1238.3 1719.4,1238.3 1726.6,1237.9 1733.8,1238.2 1741.0,1238.1"/>
<polyline stroke="#ff0000" points="302.5,864.1 309.7,785.0 316.9,664.7 324.1,627.1 331.3,594.0 338.5,594.0 345.7,614.5 352.8,624.5 360.0,654.6 367.2,688.1 374.4,723.2 381.6,746.6 388.8,768.3 396.0,788.4 403.2,804.2 410.4,815.1 417.6,821.5 424.8,825.1 432.0,824.3 439.2,819.6 446.4,812.9 453.5,807.6 460.7,806.9 467.9,795.5 475.1,784.9 482.3,780.7 489.5,778.2 496.7,776.0 503.9,774.0 511.1,770.6 518.3,778.2 525.5,781.3 532.7,789.0 539.9,794.2 547.0,803.4 554.2,814.1 561.4,819.8 568.6,823.6 575.8,835.2 583.0,846.9 590.2,854.4 597.4,861.1 604.6,868.8 611.8,880.9 619.0,890.4 626.2,905.3 633.4,911.8 640.5,923.8 647.7,935.3 654.9,937.8 662.1,948.0 669.3,959.6 676.5,965.4 683.7,971.2 690.9,975.2 698.1,981.4 705.3,985.7 712.5,990.9 719.7,998.0 726.9,1002.9 734.0,1009.5 741.2,1011.8 748.4,1017.5 755.6,1012.4 762.8,1014.6 770.0,1013.6 777.2,1009.3 784.4,1009.3 791.6,1003.5 798.8,999.6 806.0,996.1 813.2,989.9 820.4,983.7 827.6,975.9 834.7,965.1 841.9,955.0 849.1,945.1 856.3,933.3 863.5,919.2 870.7,906.3 877.9,890.4 885.1,872.1 892.3,857.5 899.5,842.8 906.7,826.9 913.9,809.0 921.1,787.9 928.2,766.0 935.4,743.0 942.6,720.1 949.8,695.6 957.0,673.5 964.2,646.5 971.4,619.3 978.6,587.9 985.8,562.6 993.0,534.9 1000.2,510.4 1007.4,484.9 1014.6,463.4 1021.8,437.0 1028.9,404.6 1036.1,380.2 1043.3,354.4 1050.5,329.3 1057.7,304.8 1064.9,278.9 1072.1,253.7 1079.3,232.1 1086.5,209.2 1093.7,191.0 1100.9,173.0 1108.1,157.8 1115.3,143.2 1122.4,131.7 1129.6,125.9 1136.8,124.6 1144.0,111.4 1151.2,102.4 1158.4,100.5 1165.6,105.1 1172.8,96.4 1180.0,98.5 1187.2,108.6 1194.4,119.7 1201.6,124.0 1208.8,130.9 1215.9,150.6 1223.1,163.6 1230.3,184.2 1237.5,203.3 1244.7,214.8 1251.9,234.1 1259.1,257.0 1266.3,280.2 1273.5,304.1 1280.7,326.5 1287.9,350.7 1295.1,379.8 1302.3,406.0 1309.5,437.8 1316.6,464.8 1323.8,496.8 1331.0,524.6 1338.2,555.3 1345.4,586.5 1352.6,610.2 1359.8,638.2 1367.0,665.6 1374.2,691.9 1381.4,722.0 1388.6,745.3 1395.8,764.9 1403.0,790.5 1410.1,813.2 1417.3,838.9 1424.5,864.8 1431.7,887.4 1438.9,907.7 1446.1,929.0 1453.3,949.9 1460.5,968.1 1467.7,985.2 1474.9,1001.4 1482.1,1013.1 1489.3,1029.3 1496.5,1044.6 1503.6,1057.7 1510.8,1069.6 1518.0,1082.2 1525.2,1095.2 1532.4,1107.5 1539.6,1118.4 1546.8,1132.1 1554.0,1142.3 1561.2,1148.3 1568.4,1157.1 1575.6,1163.0 1582.8,1169.5 1590.0,1177.0 1597.2,1184.2 1604.3,1189.1 1611.5,1194.2 1618.7,1199.1 1625.9,1203.5 1633.1,1208.0 1640.3,1207.7 1647.5,1210.2 1654.7,1216.2 1661.9,1220.9 1669.1,1223.0 1676.3,1228.0 1683.5,1231.1 1690.7,1227.1 1697.8,1230.7 1705.0,1231.7 1712.2,1232.5 1719.4,1234.6 1726.6,1235.2 1733.8,1236.1 1741.0,1236.1"/>
</g>
<g stroke-width="9" stroke-linecap="round" shape-rendering="crispEdges">
<path d="M423.2 128.9H560" stroke-width="10.2" stroke="#000000"/>
<path d="M423.2 204.3H560" stroke="#c0c0c0"/>
<path d="M423.2 279.6H560" stroke="#0000ff"/>
<path d="M423.2 355.0H560" stroke="#00ff00"/>
<path d="M423.2 430.4H560" stroke="#ff00ff"/>
<path d="M423.2 505.8H560" stroke="#ffff00"/>
<path d="M423.2 581.1H560" stroke="#000080"/>
<path d="M423.2 656.5H560" stroke="#ff0000"/>
</g>
<text font-size="61.5" text-anchor="start" transform="translate(577.8 149.2) scale(0.952 1)" xml:space="preserve">pH =2.83</text>
<text font-size="61.5" text-anchor="start" transform="translate(577.8 224.6) scale(0.952 1)" xml:space="preserve">pH = 3.38</text>
<text font-size="61.5" text-anchor="start" transform="translate(577.8 299.9) scale(0.952 1)" xml:space="preserve">pH = 4.56</text>
<text font-size="61.5" text-anchor="start" transform="translate(577.8 375.3) scale(0.952 1)" xml:space="preserve">pH = 6.17</text>
<text font-size="61.5" text-anchor="start" transform="translate(577.8 450.7) scale(0.952 1)" xml:space="preserve">pH = 7.66</text>
<text font-size="61.5" text-anchor="start" transform="translate(577.8 526.0) scale(0.952 1)" xml:space="preserve">pH = 8.14</text>
<text font-size="61.5" text-anchor="start" transform="translate(577.8 601.4) scale(0.952 1)" xml:space="preserve">pH = 9.16</text>
<text font-size="61.5" text-anchor="start" transform="translate(577.8 676.8) scale(0.952 1)" xml:space="preserve">pH = 10.16</text>
<g shape-rendering="crispEdges">
<path d="M841.5 152.8L1090.8 270.3" stroke="#000" stroke-width="10.5" stroke-linecap="round" fill="none"/><path d="M1128.3 288.0L1086.7 278.9L1094.8 261.7Z" fill="#000" stroke="#000" stroke-width="8.0" stroke-linejoin="round"/>
<rect x="870.6" y="158" width="3.4" height="16" fill="#fff"/>
<clipPath id="a2clip"><rect x="480" y="693.9" width="200" height="120"/></clipPath>
<g clip-path="url(#a2clip)"><path d="M610.8 694.7L546.6 747.9" stroke="#000" stroke-width="10.5" stroke-linecap="round" fill="none"/><path d="M515.0 774.0L540.5 740.5L552.6 755.2Z" fill="#000" stroke="#000" stroke-width="8.0" stroke-linejoin="round"/></g>
<rect x="608.2" y="690" width="4.8" height="1.3" fill="#000"/>
</g>
</svg></body></html>
